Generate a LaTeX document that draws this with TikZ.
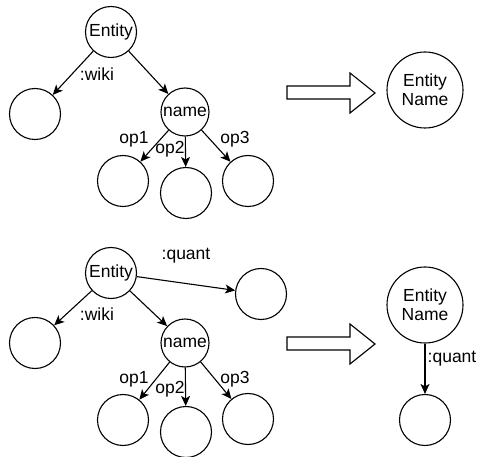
\documentclass[tikz,border=0pt]{standalone}
\usepackage{fontspec}
\setmainfont{Liberation Sans}
\usetikzlibrary{arrows.meta}

\tikzset{
  concept/.style={draw, circle, line width=1.1pt, minimum size=51pt, inner sep=0pt},
  bigconcept/.style={concept, minimum size=76pt, align=center},
  rel/.style={line width=1.1pt, -{Stealth[length=10pt,width=9pt,inset=2.5pt]}},
  rellabel/.style={inner sep=0pt},
  hollow/.style={draw, line width=1.1pt, line join=miter}
}

\begin{document}
\begin{tikzpicture}[x=1pt, y=-1pt, every node/.style={font=\fontsize{17.5}{19}\selectfont}]
  \useasboundingbox (0,0) rectangle (477,457);

  % top: before
  \node [concept] (ent1) at (111,32) {Entity};
  \node [concept] (wiki1) at (35,114) {};
  \node [concept, minimum size=48pt] (name1) at (185,112) {name};
  \node [concept] (opa1) at (123,181) {};
  \node [concept] (opb1) at (186,193) {};
  \node [concept] (opc1) at (248,181) {};

  \draw [rel] (ent1) -- (wiki1);
  \draw [rel] (ent1) -- (name1);
  \draw [rel] (name1) -- (opa1);
  \draw [rel] (name1) -- (opb1);
  \draw [rel] (name1) -- (opc1);

  \node [rellabel] (wlbl1) at (97,74) {:wiki};
  \node [rellabel] (alb1) at (134,139) {op1};
  \node [rellabel] (blb1) at (170,149) {op2};
  \node [rellabel] (clb1) at (235,139) {op3};

  % top: after
  \draw [hollow] (287,86) -- (350,86) -- (350,73) -- (375,93) -- (350,113) -- (350,99) -- (287,99) -- cycle;
  \node [bigconcept] (res1) at (425,90) {Entity\\Name};

  % bottom: before
  \node [concept] (ent2) at (111,273) {Entity};
  \node [concept] (quant2) at (261,294) {};
  \node [concept] (wiki2) at (35,343) {};
  \node [concept, minimum size=48pt] (name2) at (185,343) {name};
  \node [concept] (opa2) at (123,420) {};
  \node [concept] (opb2) at (186,432) {};
  \node [concept] (opc2) at (248,419) {};

  \draw [rel] (ent2) -- (quant2);
  \draw [rel] (ent2) -- (wiki2);
  \draw [rel] (ent2) -- (name2);
  \draw [rel] (name2) -- (opa2);
  \draw [rel] (name2) -- (opb2);
  \draw [rel] (name2) -- (opc2);

  \node [rellabel] (qlbl2) at (186,256) {:quant};
  \node [rellabel] (wlbl2) at (97,314) {:wiki};
  \node [rellabel] (alb2) at (134,379) {op1};
  \node [rellabel] (blb2) at (170,389) {op2};
  \node [rellabel] (clb2) at (235,379) {op3};

  % bottom: after
  \draw [hollow] (287,337) -- (350,337) -- (350,324) -- (375,344) -- (350,364) -- (350,350) -- (287,350) -- cycle;
  \node [bigconcept] (res2) at (425,305) {Entity\\Name};
  \node [concept] (rq2) at (425,420) {};
  \draw [rel] (res2) -- (rq2);
  \node [rellabel] (rqlbl2) at (452,359) {:quant};

\end{tikzpicture}
\end{document}
